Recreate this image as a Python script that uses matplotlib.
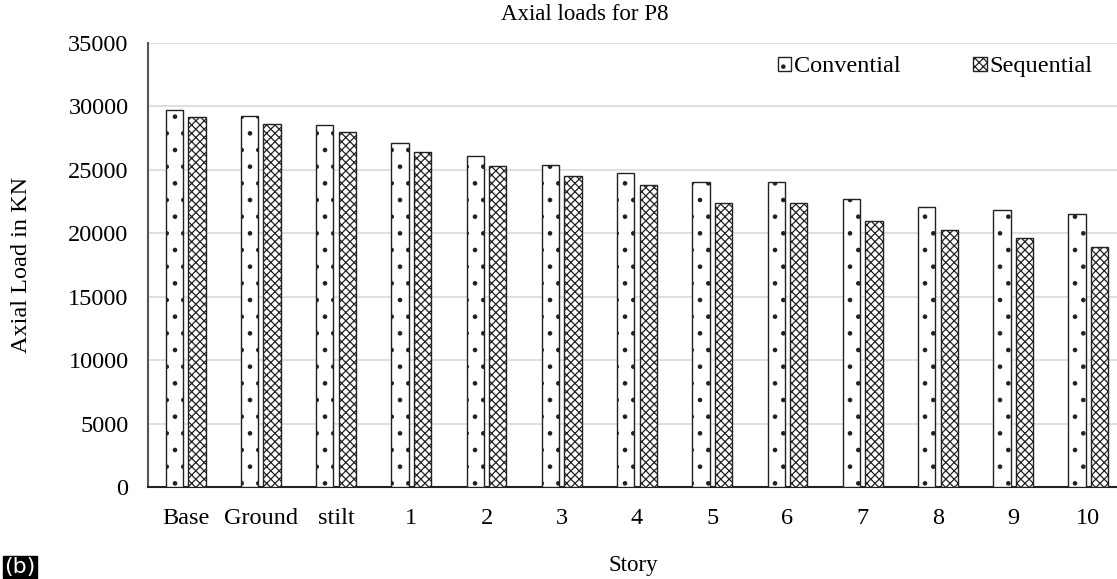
import matplotlib
matplotlib.use("Agg")
import matplotlib.pyplot as plt
import numpy as np

categories = ["Base", "Ground", "stilt", "1", "2", "3", "4", "5", "6", "7", "8", "9", "10"]
conventional = [29750, 29250, 28570, 27120, 26120, 25420, 24720, 24040, 24040, 22700, 22040, 21840, 21500]
sequential = [29190, 28650, 28010, 26380, 25290, 24520, 23800, 22390, 22390, 21000, 20280, 19600, 18920]
yticks = [0, 5000, 10000, 15000, 20000, 25000, 30000, 35000]

plt.rcParams['font.family'] = ['Liberation Serif', 'DejaVu Serif']
plt.rcParams['hatch.linewidth'] = 0.9

W, H = 1117, 579
fig = plt.figure(figsize=(W / 100, H / 100), dpi=100)
ax = fig.add_axes([148 / W, (H - 487) / H, 978 / W, (487 - 43) / H])

x = np.arange(len(categories))
bw = 0.23
off = 0.15
b1 = ax.bar(x - off, conventional, bw, facecolor='white', edgecolor='#222222',
            linewidth=1.0, hatch='.', label='Convential', zorder=3)
b2 = ax.bar(x + off, sequential, bw, facecolor='white', edgecolor='#222222',
            linewidth=1.0, hatch='xxxx', label='Sequential', zorder=3)

ax.set_xlim(-0.5, len(categories) - 0.5)
ax.set_ylim(0, 35000)
ax.set_yticks(yticks)
ax.set_yticklabels([str(v) for v in yticks], fontsize=17.5)
ax.set_xticks(x)
ax.set_xticklabels(categories, fontsize=17.5)
ax.tick_params(axis='x', length=0, pad=15)
ax.tick_params(axis='y', length=0, pad=14)
ax.yaxis.grid(True, color='#d9d9d9', linewidth=1.2, zorder=0)
ax.set_axisbelow(True)
for s in ['top', 'right']:
    ax.spines[s].set_visible(False)
ax.spines['left'].set_color('#555555')
ax.spines['bottom'].set_color('#222222')
ax.spines['left'].set_linewidth(1.5)
ax.spines['bottom'].set_linewidth(1.5)

fig.text(585 / W, 1 - 15 / H, "Axial loads for P8", ha='center', va='center', fontsize=16.5)
fig.text(22 / W, 1 - 265 / H, "Axial Load in KN", ha='center', va='center', rotation=90, fontsize=17.5)
fig.text(633 / W, 1 - 566 / H, "Story", ha='center', va='center', fontsize=16.5)
fig.text(4 / W, 1 - 567 / H, "(b)", ha='left', va='center', fontsize=16, color='white',
         family=['DejaVu Sans'],
         bbox=dict(facecolor='black', edgecolor='black', pad=1.0))

leg = fig.legend(handles=[b1, b2], loc='center', bbox_to_anchor=(935 / W, 1 - 67 / H),
                 ncol=2, frameon=False, fontsize=17.5, handlelength=0.55, handleheight=0.55,
                 handletextpad=0.1, columnspacing=3.0)

fig.savefig("out.png", dpi=100)
